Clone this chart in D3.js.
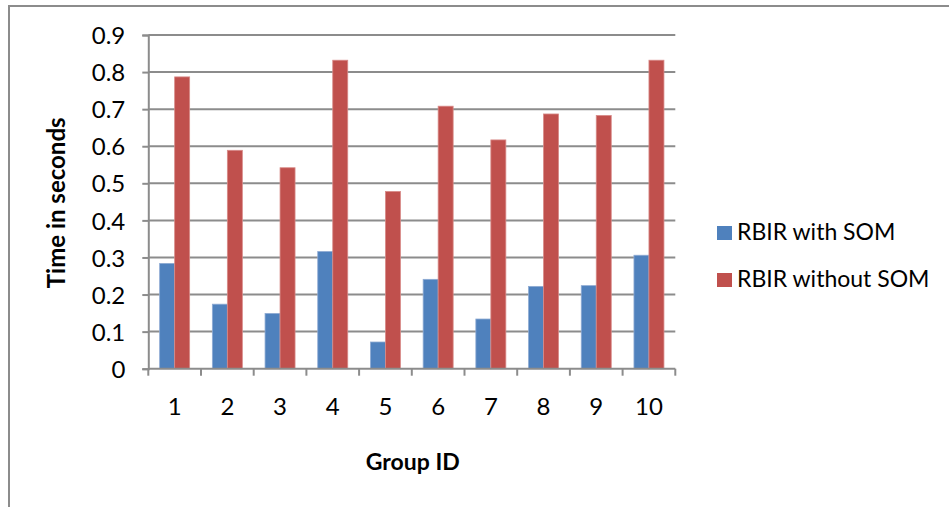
<!DOCTYPE html>
<html>
<head>
<meta charset="utf-8">
<script src="https://cdn.jsdelivr.net/npm/d3@7"></script>
<style>
  html, body { margin: 0; padding: 0; background: #fff; }
  svg { display: block; }
  text { font-family: Lato, "Open Sans", sans-serif; fill: #000; }
</style>
</head>
<body>
<svg id="chart" width="949" height="507"></svg>
<script>
const categories = ["1", "2", "3", "4", "5", "6", "7", "8", "9", "10"];
const seriesNames = ["RBIR with SOM", "RBIR without SOM"];
const withSOM = [0.284, 0.174, 0.149, 0.316, 0.072, 0.241, 0.134, 0.222, 0.224, 0.306];
const withoutSOM = [0.787, 0.589, 0.542, 0.832, 0.478, 0.708, 0.617, 0.687, 0.683, 0.832];
const yTicks = [0, 0.1, 0.2, 0.3, 0.4, 0.5, 0.6, 0.7, 0.8, 0.9];
const colors = ["#4F81BD", "#C0504D"];
const strokeColors = ["#8eaad3", "#d88a88"];

const svg = d3.select("#chart");

// outer chart frame
svg.append("rect")
  .attr("x", 9).attr("y", 6)
  .attr("width", 980).attr("height", 540)
  .attr("fill", "none").attr("stroke", "#8c8c8c").attr("stroke-width", 2);

const plotL = 148.3, plotR = 675.3, plotT = 35, plotB = 368.7;

const y = d3.scaleLinear().domain([0, 0.9]).range([plotB, plotT]);
const x0 = d3.scaleBand().domain(categories).range([plotL, plotR]).padding(0);
const x1 = d3.scaleBand().domain(seriesNames).range([0, x0.bandwidth()])
  .paddingInner(0).paddingOuter(0.757);

// gridlines
svg.append("g").selectAll("line").data(yTicks.filter(d => d > 0)).join("line")
  .attr("x1", plotL).attr("x2", plotR)
  .attr("y1", d => y(d)).attr("y2", d => y(d))
  .attr("stroke", "#8c8c8c").attr("stroke-width", 2);

// y axis
const yAxis = d3.axisLeft(y).tickValues(yTicks).tickFormat(d => d === 0 ? "0" : d3.format(".1f")(d))
  .tickSize(6).tickPadding(17);
const gy = svg.append("g").attr("transform", `translate(${plotL},0)`).call(yAxis);
gy.select(".domain").attr("stroke", "#8c8c8c").attr("stroke-width", 2);
gy.selectAll(".tick line").attr("stroke", "#8c8c8c").attr("stroke-width", 2);
gy.selectAll(".tick text").attr("font-size", 24).attr("font-family", "Lato").attr("dy", "0.36em");

// bars
const data = categories.map((c, i) => ({ cat: c, vals: [withSOM[i], withoutSOM[i]] }));
const groups = svg.append("g").selectAll("g").data(data).join("g")
  .attr("transform", d => `translate(${x0(d.cat)},0)`);
groups.selectAll("rect").data(d => d.vals.map((v, j) => ({ v, j }))).join("rect")
  .attr("x", d => x1(seriesNames[d.j]))
  .attr("width", x1.bandwidth())
  .attr("y", d => y(d.v))
  .attr("height", d => plotB - y(d.v))
  .attr("fill", d => colors[d.j])
  .attr("stroke", d => strokeColors[d.j])
  .attr("stroke-width", 0.8);

// x axis
const xAxis = d3.axisBottom(x0).tickSize(0).tickPadding(29);
const gx = svg.append("g").attr("transform", `translate(0,${plotB})`).call(xAxis);
gx.select(".domain").remove();
gx.selectAll(".tick text").attr("font-size", 24).attr("font-family", "Lato");
gx.append("line").attr("x1", plotL).attr("x2", plotR).attr("y1", 0).attr("y2", 0)
  .attr("stroke", "#8c8c8c").attr("stroke-width", 2);
const bounds = categories.map(c => x0(c)).concat([plotR]);
gx.selectAll("line.bt").data(bounds).join("line").attr("class", "bt")
  .attr("x1", d => d).attr("x2", d => d).attr("y1", 0).attr("y2", 7)
  .attr("stroke", "#8c8c8c").attr("stroke-width", 2);

// axis titles
svg.append("text")
  .attr("x", (plotL + plotR) / 2 + 1).attr("y", 470)
  .attr("text-anchor", "middle").attr("font-size", 23).attr("font-weight", "bold")
  .text("Group ID");
svg.append("text")
  .attr("transform", `translate(65,${(plotT + plotB) / 2 + 1}) rotate(-90)`)
  .attr("text-anchor", "middle").attr("font-size", 24).attr("font-weight", "bold")
  .text("Time in seconds");

// legend
const legend = svg.append("g").selectAll("g").data(seriesNames).join("g")
  .attr("transform", (d, i) => `translate(717,${240 + i * 47})`);
legend.append("rect").attr("x", 0).attr("y", -14).attr("width", 15).attr("height", 14)
  .attr("fill", (d, i) => colors[i]);
legend.append("text").attr("x", 20).attr("y", 0).attr("font-size", 23).text(d => d);
</script>
</body>
</html>
